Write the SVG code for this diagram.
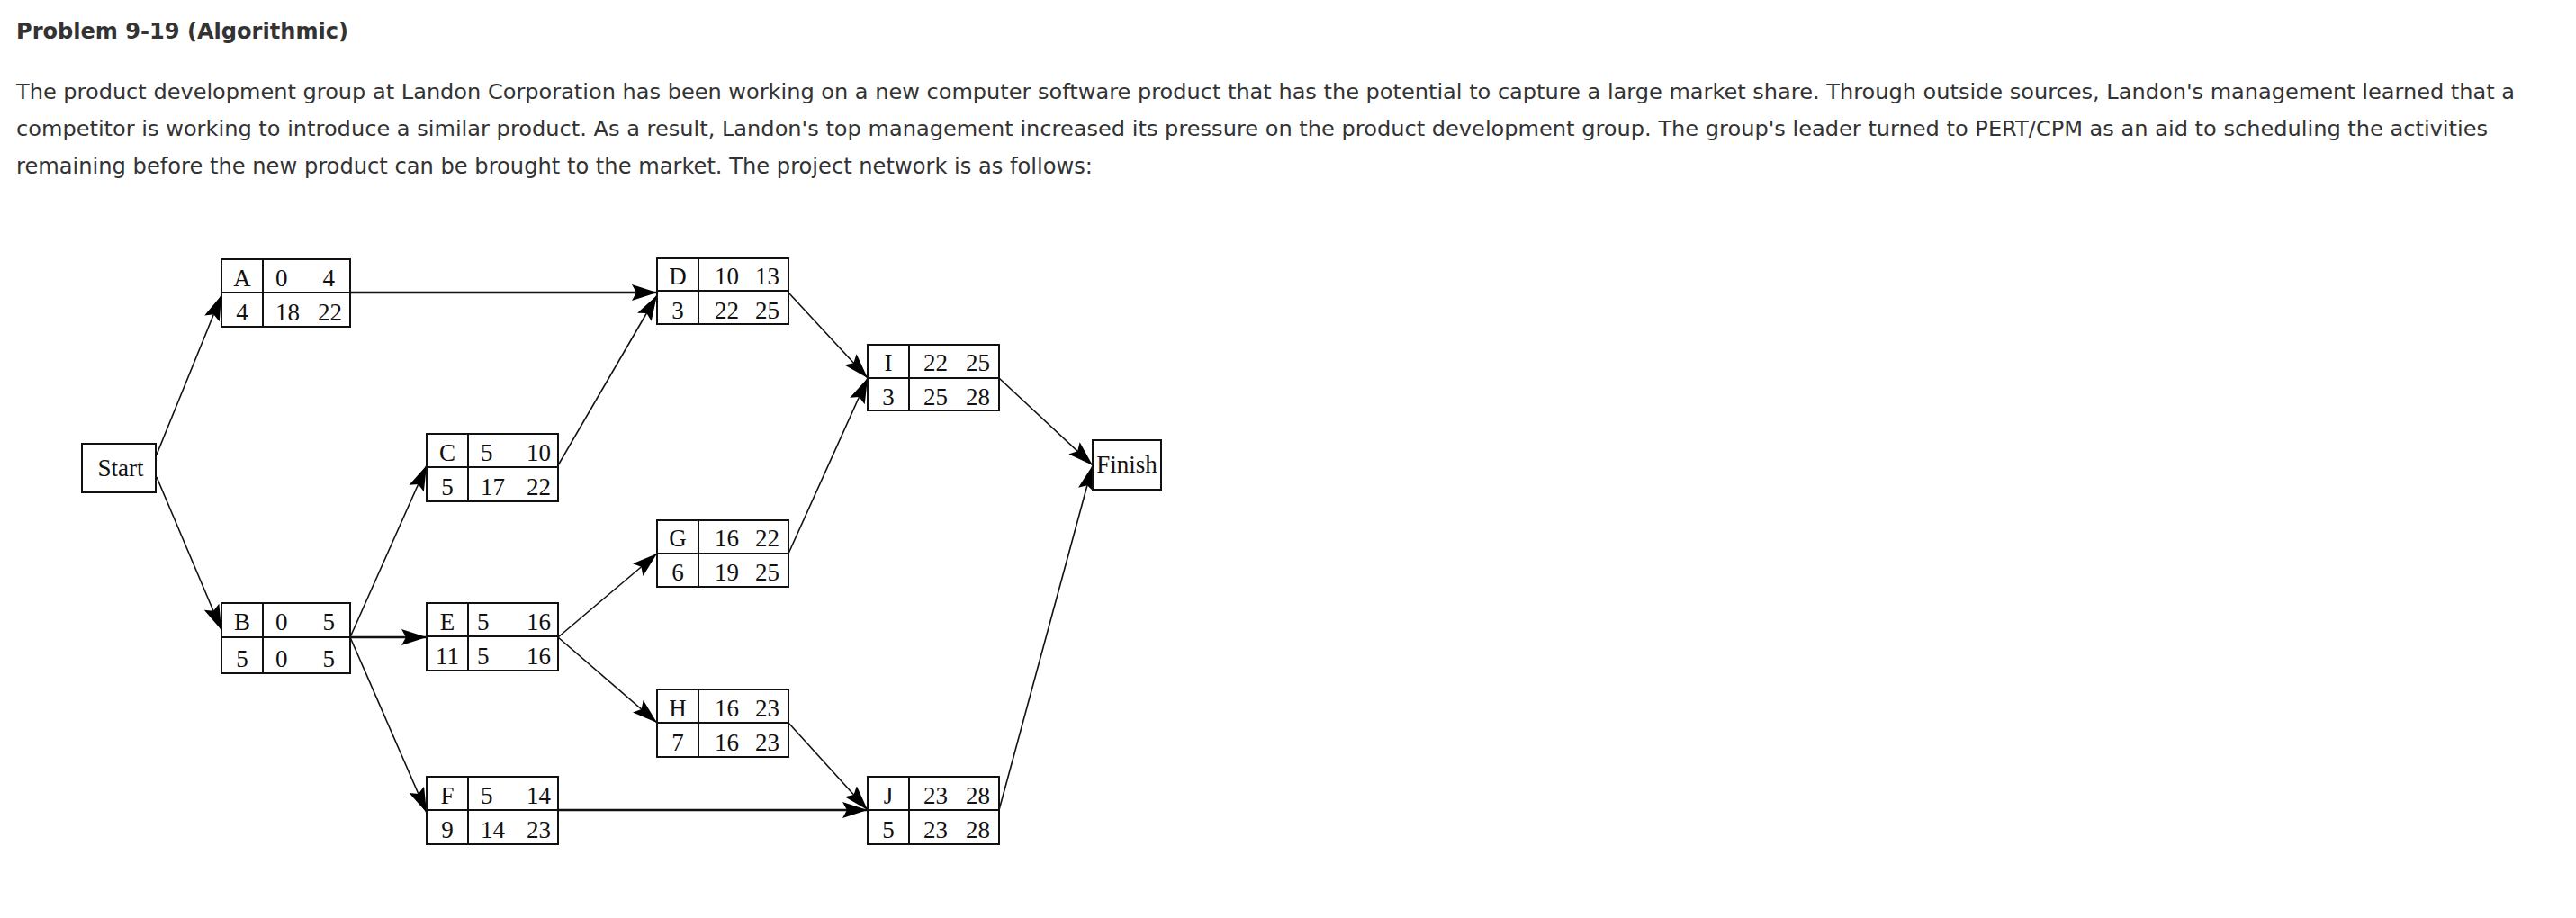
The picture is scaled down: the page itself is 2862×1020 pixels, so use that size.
<svg xmlns="http://www.w3.org/2000/svg" width="2862" height="1020" viewBox="0 0 2862 1020">
<style>
.t{font-family:"DejaVu Sans",Verdana,sans-serif;fill:#333}
.n{font-family:"Liberation Serif","Times New Roman",serif;font-size:27px;fill:#111}
.b{fill:#fff;stroke:#111;stroke-width:2}
.c{stroke:#111;stroke-width:1.6;fill:none;marker-end:url(#ah)}
.k{stroke-width:2.6}
</style>
<defs>
<marker id="ah" markerUnits="userSpaceOnUse" markerWidth="30" markerHeight="18" refX="28" refY="9" orient="auto"><path d="M0,0 L28,9 L0,18 L5,9 z" fill="#000"/></marker>
</defs>
<rect width="2862" height="1020" fill="#fff"/>
<text class="t" x="18" y="43" font-size="24" font-weight="bold" textLength="369" lengthAdjust="spacingAndGlyphs">Problem 9-19 (Algorithmic)</text>
<text class="t" x="18" y="110" font-size="23" textLength="2776" lengthAdjust="spacingAndGlyphs">The product development group at Landon Corporation has been working on a new computer software product that has the potential to capture a large market share. Through outside sources, Landon's management learned that a</text>
<text class="t" x="18" y="151" font-size="23" textLength="2746" lengthAdjust="spacingAndGlyphs">competitor is working to introduce a similar product. As a result, Landon's top management increased its pressure on the product development group. The group's leader turned to PERT/CPM as an aid to scheduling the activities</text>
<text class="t" x="18" y="193" font-size="25" textLength="1196" lengthAdjust="spacingAndGlyphs">remaining before the new product can be brought to the market. The project network is as follows:</text>
<g id="connectors">
<line class="c" x1="174" y1="505" x2="246" y2="328"/>
<line class="c" x1="174" y1="530" x2="246" y2="700"/>
<line class="c k" x1="389" y1="325" x2="730" y2="325"/>
<line class="c" x1="389" y1="708" x2="474" y2="517"/>
<line class="c k" x1="389" y1="708" x2="474" y2="708"/>
<line class="c" x1="389" y1="708" x2="474" y2="903"/>
<line class="c" x1="620" y1="517" x2="730" y2="328"/>
<line class="c" x1="620" y1="708" x2="730" y2="615"/>
<line class="c" x1="620" y1="708" x2="730" y2="803"/>
<line class="c" x1="876" y1="325" x2="964" y2="420"/>
<line class="c" x1="876" y1="615" x2="964" y2="420"/>
<line class="c" x1="876" y1="803" x2="964" y2="900"/>
<line class="c k" x1="620" y1="900" x2="964" y2="900"/>
<line class="c" x1="1110" y1="420" x2="1214" y2="517"/>
<line class="c" x1="1110" y1="900" x2="1214" y2="517"/>
</g>
<g id="start"><rect class="b" x="91" y="493" width="82" height="54"/><text class="n" x="134" y="529" text-anchor="middle">Start</text></g>
<g id="finish"><rect class="b" x="1214" y="489" width="76" height="55"/><text class="n" x="1252" y="525" text-anchor="middle">Finish</text></g>
<g id="A"><rect class="b" x="246" y="288" width="143" height="75"/><path d="M246,325H389M292,288V363" stroke="#111" stroke-width="2"/><text class="n" x="269" y="318" text-anchor="middle">A</text><text class="n" x="269" y="356" text-anchor="middle">4</text><text class="n" x="306" y="318">0</text><text class="n" x="372" y="318" text-anchor="end">4</text><text class="n" x="306" y="356">18</text><text class="n" x="380" y="356" text-anchor="end">22</text></g>
<g id="B"><rect class="b" x="246" y="670" width="143" height="78"/><path d="M246,708H389M292,670V748" stroke="#111" stroke-width="2"/><text class="n" x="269" y="700" text-anchor="middle">B</text><text class="n" x="269" y="741" text-anchor="middle">5</text><text class="n" x="306" y="700">0</text><text class="n" x="372" y="700" text-anchor="end">5</text><text class="n" x="306" y="741">0</text><text class="n" x="372" y="741" text-anchor="end">5</text></g>
<g id="C"><rect class="b" x="474" y="482" width="146" height="75"/><path d="M474,519H620M520,482V557" stroke="#111" stroke-width="2"/><text class="n" x="497" y="512" text-anchor="middle">C</text><text class="n" x="497" y="550" text-anchor="middle">5</text><text class="n" x="534" y="512">5</text><text class="n" x="612" y="512" text-anchor="end">10</text><text class="n" x="534" y="550">17</text><text class="n" x="612" y="550" text-anchor="end">22</text></g>
<g id="E"><rect class="b" x="474" y="670" width="146" height="75"/><path d="M474,707H620M520,670V745" stroke="#111" stroke-width="2"/><text class="n" x="497" y="700" text-anchor="middle">E</text><text class="n" x="497" y="738" text-anchor="middle">11</text><text class="n" x="530" y="700">5</text><text class="n" x="612" y="700" text-anchor="end">16</text><text class="n" x="530" y="738">5</text><text class="n" x="612" y="738" text-anchor="end">16</text></g>
<g id="F"><rect class="b" x="474" y="863" width="146" height="75"/><path d="M474,900H620M520,863V938" stroke="#111" stroke-width="2"/><text class="n" x="497" y="893" text-anchor="middle">F</text><text class="n" x="497" y="931" text-anchor="middle">9</text><text class="n" x="534" y="893">5</text><text class="n" x="612" y="893" text-anchor="end">14</text><text class="n" x="534" y="931">14</text><text class="n" x="612" y="931" text-anchor="end">23</text></g>
<g id="D"><rect class="b" x="730" y="287" width="146" height="73"/><path d="M730,323H876M776,287V360" stroke="#111" stroke-width="2"/><text class="n" x="753" y="316" text-anchor="middle">D</text><text class="n" x="753" y="354" text-anchor="middle">3</text><text class="n" x="794" y="316">10</text><text class="n" x="866" y="316" text-anchor="end">13</text><text class="n" x="794" y="354">22</text><text class="n" x="866" y="354" text-anchor="end">25</text></g>
<g id="G"><rect class="b" x="730" y="578" width="146" height="74"/><path d="M730,615H876M776,578V652" stroke="#111" stroke-width="2"/><text class="n" x="753" y="607" text-anchor="middle">G</text><text class="n" x="753" y="645" text-anchor="middle">6</text><text class="n" x="794" y="607">16</text><text class="n" x="866" y="607" text-anchor="end">22</text><text class="n" x="794" y="645">19</text><text class="n" x="866" y="645" text-anchor="end">25</text></g>
<g id="H"><rect class="b" x="730" y="766" width="146" height="75"/><path d="M730,803H876M776,766V841" stroke="#111" stroke-width="2"/><text class="n" x="753" y="796" text-anchor="middle">H</text><text class="n" x="753" y="834" text-anchor="middle">7</text><text class="n" x="794" y="796">16</text><text class="n" x="866" y="796" text-anchor="end">23</text><text class="n" x="794" y="834">16</text><text class="n" x="866" y="834" text-anchor="end">23</text></g>
<g id="I"><rect class="b" x="964" y="383" width="146" height="73"/><path d="M964,420H1110M1010,383V456" stroke="#111" stroke-width="2"/><text class="n" x="987" y="412" text-anchor="middle">I</text><text class="n" x="987" y="450" text-anchor="middle">3</text><text class="n" x="1026" y="412">22</text><text class="n" x="1100" y="412" text-anchor="end">25</text><text class="n" x="1026" y="450">25</text><text class="n" x="1100" y="450" text-anchor="end">28</text></g>
<g id="J"><rect class="b" x="964" y="863" width="146" height="75"/><path d="M964,900H1110M1010,863V938" stroke="#111" stroke-width="2"/><text class="n" x="987" y="893" text-anchor="middle">J</text><text class="n" x="987" y="931" text-anchor="middle">5</text><text class="n" x="1026" y="893">23</text><text class="n" x="1100" y="893" text-anchor="end">28</text><text class="n" x="1026" y="931">23</text><text class="n" x="1100" y="931" text-anchor="end">28</text></g>
</svg>
